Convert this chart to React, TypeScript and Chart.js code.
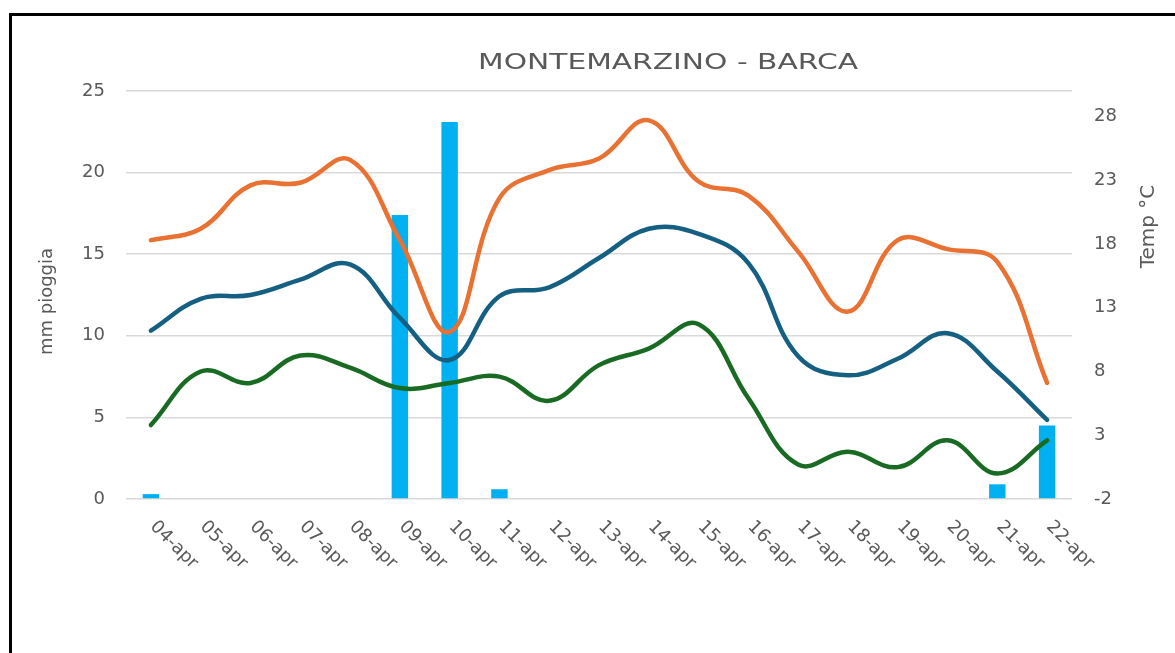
import React, { useEffect, useRef } from "react";
import { Chart, registerables } from "chart.js";

Chart.register(...registerables);

const categories = [
  "04-apr", "05-apr", "06-apr", "07-apr", "08-apr", "09-apr", "10-apr",
  "11-apr", "12-apr", "13-apr", "14-apr", "15-apr", "16-apr", "17-apr",
  "18-apr", "19-apr", "20-apr", "21-apr", "22-apr",
];
const rainMm = [0.3, 0, 0, 0, 0, 17.4, 23.1, 0.6, 0, 0, 0, 0, 0, 0, 0, 0, 0, 0.9, 4.5];
const tempMax = [18.3, 19.2, 22.6, 22.8, 24.6, 18.3, 11.1, 21.6, 23.8, 24.7, 27.7, 22.9, 21.8, 17.4, 12.7, 18.3, 17.6, 16.6, 7.1];
const tempMean = [11.2, 13.7, 14.0, 15.2, 16.4, 12.2, 8.9, 13.9, 14.6, 16.9, 19.2, 18.8, 16.5, 9.2, 7.7, 9.0, 11.0, 8.0, 4.2];
const tempMin = [3.8, 8.0, 7.1, 9.25, 8.3, 6.7, 7.1, 7.6, 5.7, 8.5, 9.8, 11.7, 5.9, 0.7, 1.7, 0.5, 2.6, 0.0, 2.6];
const rainTicks = [0, 5, 10, 15, 20, 25];
const tempTicks = [-2, 3, 8, 13, 18, 23, 28];

const TITLE = "MONTEMARZINO - BARCA";
const LEFT_TITLE = "mm pioggia";
const RIGHT_TITLE = "Temp °C";
const TEXT_COLOR = "#595959";
const FONT = '"DejaVu Sans", "Liberation Sans", sans-serif';

const textPlugin = {
  id: "customText",
  afterDraw(chart: any) {
    const { ctx, chartArea, scales } = chart;
    ctx.save();
    ctx.fillStyle = TEXT_COLOR;

    // Title (wide letterforms)
    ctx.font = `21px ${FONT}`;
    ctx.textAlign = "center";
    ctx.textBaseline = "alphabetic";
    const w = ctx.measureText(TITLE).width;
    const sx = 380 / w;
    ctx.save();
    ctx.translate(668, 68.5);
    ctx.scale(sx, 1);
    ctx.fillText(TITLE, 0, 0);
    ctx.restore();

    // Left axis title
    ctx.font = `18px ${FONT}`;
    ctx.textAlign = "center";
    ctx.textBaseline = "middle";
    ctx.save();
    ctx.translate(47.5, 301.5);
    ctx.rotate(-Math.PI / 2);
    ctx.fillText(LEFT_TITLE, 0, 0);
    ctx.restore();

    // Right axis title
    ctx.font = `20px ${FONT}`;
    ctx.save();
    ctx.translate(1148.5, 226.5);
    ctx.rotate(-Math.PI / 2);
    ctx.fillText(RIGHT_TITLE, 0, 0);
    ctx.restore();

    // X labels rotated 45deg clockwise
    const xs = scales.x;
    ctx.font = `18px ${FONT}`;
    ctx.textAlign = "left";
    ctx.textBaseline = "middle";
    categories.forEach((lab, i) => {
      const px = xs.getPixelForValue(i);
      ctx.save();
      ctx.translate(px + 2, chartArea.bottom + 25);
      ctx.rotate(Math.PI / 4);
      ctx.fillText(lab, 0, 0);
      ctx.restore();
    });
    ctx.restore();
  },
};

export default function App() {
  const ref = useRef<HTMLCanvasElement>(null);

  useEffect(() => {
    const lineCommon = {
      type: "line" as const,
      yAxisID: "y1",
      borderWidth: 4.5,
      pointRadius: 0,
      pointHoverRadius: 0,
      tension: 0.4,
      fill: false,
      borderCapStyle: "round" as const,
      borderJoinStyle: "round" as const,
      order: 1,
    };
    const chart = new Chart(ref.current as HTMLCanvasElement, {
      type: "bar",
      data: {
        labels: categories,
        datasets: [
          {
            ...lineCommon,
            label: "Temp max",
            data: tempMax,
            borderColor: "#E97132",
            backgroundColor: "#E97132",
          },
          {
            ...lineCommon,
            label: "Temp media",
            data: tempMean,
            borderColor: "#156082",
            backgroundColor: "#156082",
          },
          {
            ...lineCommon,
            label: "Temp min",
            data: tempMin,
            borderColor: "#196B24",
            backgroundColor: "#196B24",
          },
          {
            type: "bar",
            label: "Pioggia",
            data: rainMm,
            backgroundColor: "#00B0F0",
            borderWidth: 0,
            yAxisID: "y",
            order: 2,
            barPercentage: 0.33,
            categoryPercentage: 1,
          },
        ] as any,
      },
      options: {
        responsive: false,
        animation: false,
        layout: { padding: { top: 91, left: 0, right: 0, bottom: 0 } },
        plugins: {
          legend: { display: false },
          tooltip: { enabled: false },
          title: { display: false },
        },
        scales: {
          x: {
            type: "category",
            offset: true,
            grid: { display: false, drawTicks: false },
            border: { display: false },
            ticks: { display: false },
            afterFit: (s: any) => {
              s.height = 154;
            },
          },
          y: {
            position: "left",
            min: 0,
            max: 25,
            afterBuildTicks: (s: any) => {
              s.ticks = rainTicks.map((v) => ({ value: v }));
            },
            ticks: {
              color: TEXT_COLOR,
              font: { family: FONT, size: 18 },
              padding: 21,
            },
            grid: { color: "#d9d9d9", lineWidth: 1.5, drawTicks: false },
            border: { display: false },
            afterFit: (s: any) => {
              s.width = 126;
            },
          },
          y1: {
            position: "right",
            min: -2,
            max: 30,
            afterBuildTicks: (s: any) => {
              s.ticks = tempTicks.map((v) => ({ value: v }));
            },
            ticks: {
              color: TEXT_COLOR,
              font: { family: FONT, size: 18 },
              padding: 22,
            },
            grid: { display: false, drawTicks: false, drawOnChartArea: false },
            border: { display: false },
            afterFit: (s: any) => {
              s.width = 103;
            },
          },
        },
      } as any,
      plugins: [textPlugin],
    });
    return () => chart.destroy();
  }, []);

  return (
    <div
      style={{
        position: "fixed",
        left: 0,
        top: 0,
        width: 1175,
        height: 653,
        overflow: "hidden",
        background: "#ffffff",
      }}
    >
      <canvas
        ref={ref}
        width={1175}
        height={653}
        style={{ position: "absolute", left: 0, top: 0, width: 1175, height: 653 }}
      />
      <div
        style={{
          position: "absolute",
          left: 9,
          top: 13,
          width: 3000,
          height: 3000,
          borderLeft: "3px solid #000",
          borderTop: "3px solid #000",
          pointerEvents: "none",
        }}
      />
    </div>
  );
}
